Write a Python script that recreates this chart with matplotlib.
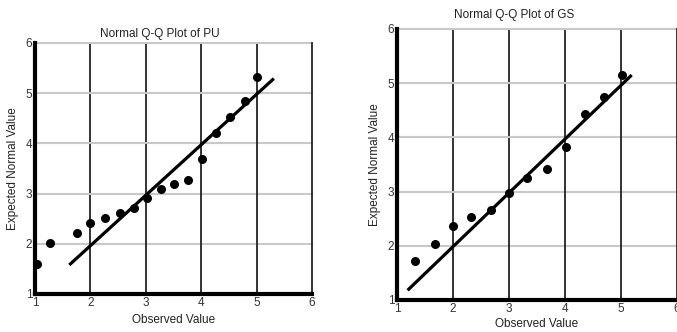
import matplotlib.pyplot as plt
import matplotlib.font_manager as fm

names = {f.name for f in fm.fontManager.ttflist}
fam = 'Liberation Sans Narrow' if 'Liberation Sans Narrow' in names else 'Liberation Sans'
plt.rcParams['font.family'] = [fam, 'DejaVu Sans']

# PU data
pu_obs = [1.04, 1.27, 1.76, 2.0, 2.26, 2.53, 2.78, 3.02, 3.27, 3.51, 3.77, 4.01, 4.26, 4.52, 4.79, 5.0]
pu_exp = [1.6, 2.01, 2.21, 2.41, 2.51, 2.61, 2.71, 2.91, 3.09, 3.2, 3.28, 3.68, 4.21, 4.52, 4.84, 5.32]
pu_line_x = [1.64, 5.29]
pu_line_y = [1.6, 5.27]

# GS data
gs_obs = [1.33, 1.67, 2.0, 2.33, 2.67, 3.0, 3.33, 3.68, 4.01, 4.35, 4.69, 5.02]
gs_exp = [1.72, 2.04, 2.36, 2.54, 2.66, 2.97, 3.25, 3.41, 3.83, 4.43, 4.74, 5.16]
gs_line_x = [1.21, 5.17]
gs_line_y = [1.2, 5.13]

ticks = [1, 2, 3, 4, 5, 6]

fig = plt.figure(figsize=(6.77, 3.32), dpi=100)
ax1 = fig.add_axes([35 / 677, 1 - 294 / 332, 277 / 677, 251 / 332])
ax2 = fig.add_axes([397 / 677, 1 - 300 / 332, 280 / 677, 271 / 332])


def draw(ax, obs, exp, lx, ly, title, tx, ty, xpad):
    ax.set_xlim(1, 6)
    ax.set_ylim(1, 6)
    ax.set_xticks(ticks)
    ax.set_yticks(ticks)
    for t in ticks[1:]:
        ax.axhline(t, color='#c8c8c8', lw=1.5, zorder=1, clip_on=False)
        ax.axvline(t, color='#222222', lw=1.3, zorder=1, clip_on=False)
    ax.plot(lx, ly, color='black', lw=2.3, zorder=3)
    ax.scatter(obs, exp, s=30, color='black', zorder=4, clip_on=False)
    for s in ['top', 'right']:
        ax.spines[s].set_visible(False)
    for s in ['left', 'bottom']:
        ax.spines[s].set_linewidth(3)
        ax.spines[s].set_color('black')
    ax.tick_params(length=0, labelsize=8.5, pad=2, colors='#333333')
    ax.set_xlabel('Observed Value', fontsize=8.5, labelpad=xpad, color='#222222')
    ax.set_ylabel('Expected Normal Value', fontsize=8.5, labelpad=5, color='#222222')
    ax.text(tx, ty, title, transform=ax.transAxes, ha='center', va='bottom',
            fontsize=8.5, color='#222222')


draw(ax1, pu_obs, pu_exp, pu_line_x, pu_line_y, 'Normal Q-Q Plot of PU', 0.45, 1.012, 4)
draw(ax2, gs_obs, gs_exp, gs_line_x, gs_line_y, 'Normal Q-Q Plot of GS', 0.42, 1.03, 2)

fig.savefig('out.png', dpi=100)
